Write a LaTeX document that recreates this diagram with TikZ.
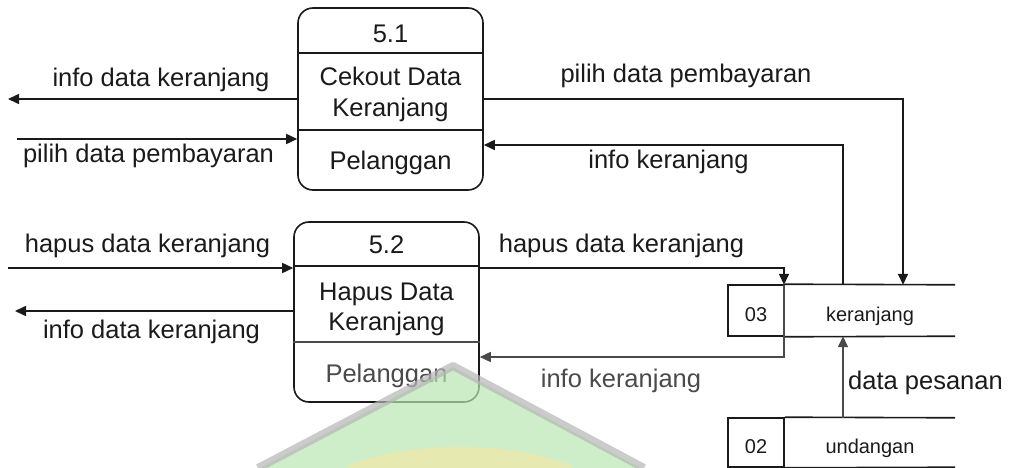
\documentclass[tikz,border=0pt]{standalone}
\usepackage{fontspec}
\setmainfont{Liberation Sans}
\usetikzlibrary{arrows.meta}
\definecolor{ink}{HTML}{1A1A1A}
\definecolor{soft}{HTML}{4A4A4A}
\definecolor{wmgreen}{HTML}{B9E6B2}
\definecolor{wmgray}{HTML}{B5B5B5}
\definecolor{wmyellow}{HTML}{F2E9A6}
\tikzset{
  flow/.style={line width=1.6pt, draw=ink, -{Triangle[length=11pt,width=10pt]}},
  plain/.style={line width=1.6pt, draw=ink},
  lbl/.style={font=\fontsize{25.5}{28}\selectfont, text=ink, inner sep=0pt, anchor=base},
  storetxt/.style={font=\fontsize{20}{22}\selectfont, text=ink, inner sep=0pt, anchor=base},
  proc/.style={draw=ink, line width=1.6pt, rounded corners=15pt, minimum width=185pt, inner sep=0pt, fill=white},
  idbox/.style={draw=ink, line width=1.6pt, minimum width=56pt, inner sep=0pt},
  namebox/.style={minimum width=171pt, inner sep=0pt}
}
\begin{document}
\begin{tikzpicture}[x=1pt,y=-1pt]
\useasboundingbox (0,0) rectangle (1010,468);

% ---- processes ----
\node[proc, minimum height=182pt] (p1) at (390.5,99) {};
\draw[plain] ([yshift=-46pt]p1.north west) -- ([yshift=-46pt]p1.north east);
\draw[plain] ([yshift=-123pt]p1.north west) -- ([yshift=-123pt]p1.north east);
\node[lbl] (p1id) at (390.5,42.5) {5.1};
\node[lbl] (p1a) at (390.5,86) {Cekout Data};
\node[lbl] (p1b) at (390.5,117) {Keranjang};
\node[lbl] (p1c) at (390.5,170) {Pelanggan};

\node[proc, minimum height=180pt] (p2) at (386.5,312) {};
\draw[plain] ([yshift=-45pt]p2.north west) -- ([yshift=-45pt]p2.north east);
\draw[line width=1.6pt, draw=soft] ([yshift=-121pt]p2.north west) -- ([yshift=-121pt]p2.north east);
\node[lbl] (p2id) at (386.5,253.5) {5.2};
\node[lbl] (p2a) at (386.5,300) {Hapus Data};
\node[lbl] (p2b) at (386.5,330.5) {Keranjang};
\node[lbl, text=soft] (p2c) at (386.5,382) {Pelanggan};

% ---- data stores ----
\node[idbox, minimum height=51pt] (s1id) at (756,310.5) {};
\node[namebox, minimum height=51pt] (s1) at (869.5,310.5) {};
\draw[plain] (s1id.north east) -- (s1.north east);
\draw[plain] (s1id.south east) -- (s1.south east);
\node[storetxt] (s1t1) at (756,321.5) {03};
\node[storetxt] (s1t2) at (870,321) {keranjang};

\node[idbox, minimum height=49pt] (s2id) at (756,442.5) {};
\node[namebox, minimum height=49pt] (s2) at (869.5,442.5) {};
\draw[plain] (s2id.north east) -- (s2.north east);
\draw[plain] (s2id.south east) -- (s2.south east);
\node[storetxt] (s2t1) at (756,453.5) {02};
\node[storetxt] (s2t2) at (870,453) {undangan};

% ---- external flow ends ----
\coordinate (e1) at (8,99);
\coordinate (e2) at (17,139);
\coordinate (e3) at (8,268);
\coordinate (e4) at (15,311);

% ---- bends ----
\coordinate (c1) at (903,99);
\coordinate (c2) at (843,145);
\coordinate (c3) at (784,268);
\coordinate (c4) at (784,357);

% ---- flows of 5.1 ----
\draw[flow] (p1.west |- e1) -- (e1);
\node[lbl] (l1) at (161,87) {info data keranjang};
\draw[flow] (e2) -- (p1.west |- e2);
\node[lbl] (l2) at (148.5,163) {pilih data pembayaran};
\draw[flow] (p1.east |- c1) -- (c1) -- (c1 |- s1.north);
\node[lbl] (l3) at (686,83) {pilih data pembayaran};
\draw[flow] (c2 |- s1.north) -- (c2) -- (c2 -| p1.east);
\node[lbl] (l4) at (668.5,168) {info keranjang};

% ---- flows of 5.2 ----
\draw[flow] (e3) -- (p2.west |- e3);
\node[lbl] (l5) at (147.5,252) {hapus data keranjang};
\draw[flow] (p2.west |- e4) -- (e4);
\node[lbl] (l6) at (151.5,338) {info data keranjang};
\draw[flow] (c3 -| p2.east) -- (c3) -- (c3 |- s1.north);
\node[lbl] (l7) at (621.5,252) {hapus data keranjang};
\draw[flow, draw=soft] (c3 |- s1.north) -- (c4) -- (c4 -| p2.east);
\node[lbl, text=soft] (l8) at (621,387) {info keranjang};

% ---- store to store ----
\draw[flow, draw=soft] (c2 |- s2.north) -- (c2 |- s1.south);
\node[lbl, anchor=base west] (l9) at (848,389) {data pesanan};

% ---- faint emblem in the background ----
\begin{scope}[opacity=0.7]
  \fill[wmgreen] (453,367) -- (640,468) -- (260,468) -- cycle;
  \fill[wmyellow] (345,468) .. controls (400,440) and (520,440) .. (575,468) -- cycle;
  \draw[wmgray, line width=8pt, line join=round] (258,468) -- (453,366) -- (644,468);
\end{scope}
\end{tikzpicture}
\end{document}
